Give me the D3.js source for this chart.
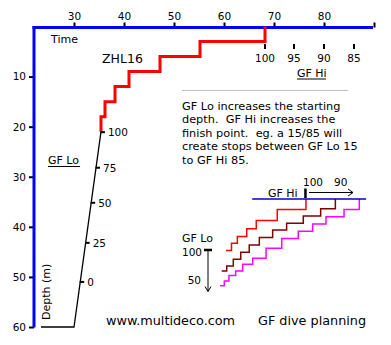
<!DOCTYPE html>
<html lang="en">
<head>
<meta charset="utf-8">
<title>GF dive planning</title>
<script src="https://cdn.jsdelivr.net/npm/d3@7"></script>
<style>
	body { margin: 0; background: #fff; }
	svg text { font-family: "DejaVu Sans", Verdana, sans-serif; fill: #000; }
	.axis path.domain { display: none; }
	.axis line { stroke: #000; stroke-width: 2px; }
	.axis text { font-size: 10.5px; }
</style>
</head>
<body>
<div id="chart"></div>
<script>
// top axis (time, min) and left axis (depth, m)
var timeTicks = [30, 40, 50, 60, 70, 80, 90];
var depthTicks = [10, 20, 30, 40, 50, 60];

// dive profile: bottom at 60 m, then ascent to first stop
var bottomTimes = [23.4, 30];
var bottomDepth = 60;
var ascentTime = 35.4;
var ascentDepth = 21;

// ZHL16 deco stops (depth, time the stop ends)
var stopDepths = [18, 15, 12, 9, 6, 3, 0];
var stopLeave = [36.2, 38.2, 41, 47.2, 55.2, 68.2];

// GF Lo marks on the ascent line
var gfLoValues = [100, 75, 50, 25, 0];
var gfLoDepths = [21.1, 28.2, 35.2, 43.2, 51];

// GF Hi marks under the time axis
var gfHiValues = [100, 95, 90, 85];
var gfHiTimes = [68.2, 74, 80, 86];

// small sketch: three stop schedules (step positions, sketch units)
var redX = [61.4, 40.9, 25.9, 19.1, 12.4, 8.2, 4.3];
var redY = [0, 3.6, 7.4, 10.3, 12.9, 15.3, 17.8];
var darkX = [82.4, 71.9, 59.5, 47.6, 37.6, 28.1, 20.9, 14.8, 9.5, 4.8, 1.2];
var darkY = [0, 3.4, 5.9, 8.4, 10.7, 13.3, 15.9, 18.4, 20.8, 23.1, 24.8];
var pinkX = [99.5, 88.6, 75.7, 66.2, 55.9, 44.1, 32.9, 23.4, 16.2, 11.2, 6.4, 3.1, 0];
var pinkY = [0, 3.6, 6.1, 8.6, 11.1, 13.6, 17, 20.4, 22.5, 24.8, 26.4, 28.3, 29.9];

var noteLines = [
	"GF Lo increases the starting",
	"depth.  GF Hi increases the",
	"finish point.  eg. a 15/85 will",
	"create stops between GF Lo 15",
	"to GF Hi 85."
];

var width = 391, height = 345;

var svg = d3.select("#chart").append("svg")
	.attr("width", width)
	.attr("height", height);

var x = d3.scaleLinear().domain([22, 90]).range([34, 374]);
var y = d3.scaleLinear().domain([0, 60]).range([26.5, 327]);

//axes
svg.append("g")
	.attr("class", "axis")
	.attr("transform", "translate(0,27.5)")
	.call(d3.axisTop(x).tickValues(timeTicks).tickSize(5).tickSizeOuter(0)
		.tickFormat(function(d) { return d == 90 ? "" : d; }));

svg.append("g")
	.attr("class", "axis")
	.attr("transform", "translate(34,0)")
	.call(d3.axisLeft(y).tickValues(depthTicks).tickSize(5).tickSizeOuter(0));

svg.append("line")
	.attr("x1", 32.5).attr("x2", 373)
	.attr("y1", 27.5).attr("y2", 27.5)
	.attr("stroke", "#0000ff").attr("stroke-width", 3);
svg.append("line")
	.attr("x1", 34).attr("x2", 34)
	.attr("y1", 26).attr("y2", 327.5)
	.attr("stroke", "#0000ff").attr("stroke-width", 3);

//bottom + ascent (black)
var line = d3.line().x(function(d) { return x(d[0]); }).y(function(d) { return y(d[1]); });
var descent = [[bottomTimes[0], bottomDepth], [bottomTimes[1], bottomDepth], [ascentTime, ascentDepth]];
svg.append("path")
	.attr("d", line(descent))
	.attr("fill", "none").attr("stroke", "#000").attr("stroke-width", 1.3);

//deco stops (red)
var stops = [[ascentTime, ascentDepth]];
var t = ascentTime;
for (var i = 0; i < stopLeave.length; i++) {
	stops.push([t, stopDepths[i]]);
	stops.push([stopLeave[i], stopDepths[i]]);
	t = stopLeave[i];
}
stops.push([t, stopDepths[stopDepths.length - 1]]);
svg.append("path")
	.attr("d", line(stops))
	.attr("fill", "none").attr("stroke", "#ff0000").attr("stroke-width", 3);

//GF Lo ticks along the ascent line
var alongLine = d3.scaleLinear().domain([bottomDepth, ascentDepth]).range([bottomTimes[1], ascentTime]);
gfLoValues.forEach(function(v, i) {
	var px = x(alongLine(gfLoDepths[i])), py = y(gfLoDepths[i]);
	svg.append("line")
		.attr("x1", px - 0.5).attr("x2", px + 4)
		.attr("y1", py).attr("y2", py)
		.attr("stroke", "#000").attr("stroke-width", 2);
	svg.append("text")
		.attr("x", px + 7).attr("y", py)
		.attr("dy", "0.36em")
		.style("font-size", "10.5px")
		.text(v);
});

//GF Hi ticks under the time axis
gfHiValues.forEach(function(v, i) {
	svg.append("line")
		.attr("x1", x(gfHiTimes[i])).attr("x2", x(gfHiTimes[i]))
		.attr("y1", 44).attr("y2", 49)
		.attr("stroke", "#000").attr("stroke-width", 2);
	svg.append("text")
		.attr("x", x(gfHiTimes[i])).attr("y", 61.5)
		.attr("text-anchor", "middle")
		.style("font-size", "10.5px")
		.text(v);
});

//labels
svg.append("text").attr("x", 51).attr("y", 42.5).style("font-size", "11px").text("Time");
svg.append("text").attr("x", 102).attr("y", 62.5).style("font-size", "12.5px").text("ZHL16");
svg.append("text")
	.attr("transform", "translate(49.5,320) rotate(-90)")
	.style("font-size", "11px").text("Depth (m)");

function underlined(tx, ty, label, w) {
	svg.append("text").attr("x", tx).attr("y", ty).style("font-size", "11px").text(label);
	svg.append("line")
		.attr("x1", tx).attr("x2", tx + w)
		.attr("y1", ty + 2.5).attr("y2", ty + 2.5)
		.attr("stroke", "#000").attr("stroke-width", 1);
}
underlined(48, 164, "GF Lo", 32);
underlined(297, 76.5, "GF Hi", 29);

//note text
svg.append("line")
	.attr("x1", 182).attr("x2", 348)
	.attr("y1", 90.5).attr("y2", 90.5)
	.attr("stroke", "#c0c0c0").attr("stroke-width", 1);
svg.selectAll(".note")
	.data(noteLines)
	.enter().append("text")
	.attr("class", "note")
	.attr("x", 182)
	.attr("y", function(d, i) { return 109.5 + i * 13.6; })
	.attr("xml:space", "preserve")
	.style("white-space", "pre")
	.style("font-size", "11.3px")
	.text(function(d) { return d; });

//small sketch
var ix = d3.scaleLinear().domain([0, 100]).range([220, 360]);
var iy = d3.scaleLinear().domain([0, 30]).range([199, 286]);

function steps(xs, ys) {
	var pts = [];
	for (var i = 0; i < xs.length; i++) {
		pts.push([ix(xs[i]), iy(ys[i])]);
		if (i + 1 < ys.length) pts.push([ix(xs[i]), iy(ys[i + 1])]);
		else pts.push([ix(xs[i]), iy(ys[i])]);
	}
	return pts;
}
var stepLine = d3.line();
[[pinkX, pinkY, "#ff00ff"], [darkX, darkY, "#800000"], [redX, redY, "#ff0000"]].forEach(function(s) {
	svg.append("path")
		.attr("d", stepLine(steps(s[0], s[1])))
		.attr("fill", "none").attr("stroke", s[2]).attr("stroke-width", 1.5);
});

svg.append("line")
	.attr("x1", ix(23)).attr("x2", ix(104.3))
	.attr("y1", 199).attr("y2", 199)
	.attr("stroke", "#0000cc").attr("stroke-width", 1.5);

// GF Hi arrow
svg.append("text").attr("x", 268).attr("y", 196.5).style("font-size", "11px").text("GF Hi");
svg.append("line")
	.attr("x1", ix(redX[0]) - 0.5).attr("x2", ix(redX[0]) - 0.5)
	.attr("y1", 188.5).attr("y2", 198)
	.attr("stroke", "#000").attr("stroke-width", 2.5);
svg.append("path")
	.attr("d", "M309,192.5H353M348,189L353,192.5L348,196")
	.attr("fill", "none").attr("stroke", "#000").attr("stroke-width", 1);
svg.append("text").attr("x", 303).attr("y", 186).style("font-size", "10.5px").text("100");
svg.append("text").attr("x", 334).attr("y", 186).style("font-size", "10.5px").text("90");

// GF Lo arrow
svg.append("text").attr("x", 182).attr("y", 242).style("font-size", "11px").text("GF Lo");
svg.append("text").attr("x", 202).attr("y", 256).attr("text-anchor", "end").style("font-size", "10.5px").text("100");
svg.append("text").attr("x", 201).attr("y", 284).attr("text-anchor", "end").style("font-size", "10.5px").text("50");
svg.append("line")
	.attr("x1", 204).attr("x2", 212)
	.attr("y1", 250).attr("y2", 250)
	.attr("stroke", "#000").attr("stroke-width", 2.5);
svg.append("path")
	.attr("d", "M208,251V291.5M205,286.5L208,291.5L211,286.5")
	.attr("fill", "none").attr("stroke", "#000").attr("stroke-width", 1);

//footer
svg.append("text").attr("x", 106).attr("y", 324.5).style("font-size", "12.8px").text("www.multideco.com");
svg.append("text").attr("x", 258).attr("y", 324.5).style("font-size", "12.8px").text("GF dive planning");
</script>
</body>
</html>
